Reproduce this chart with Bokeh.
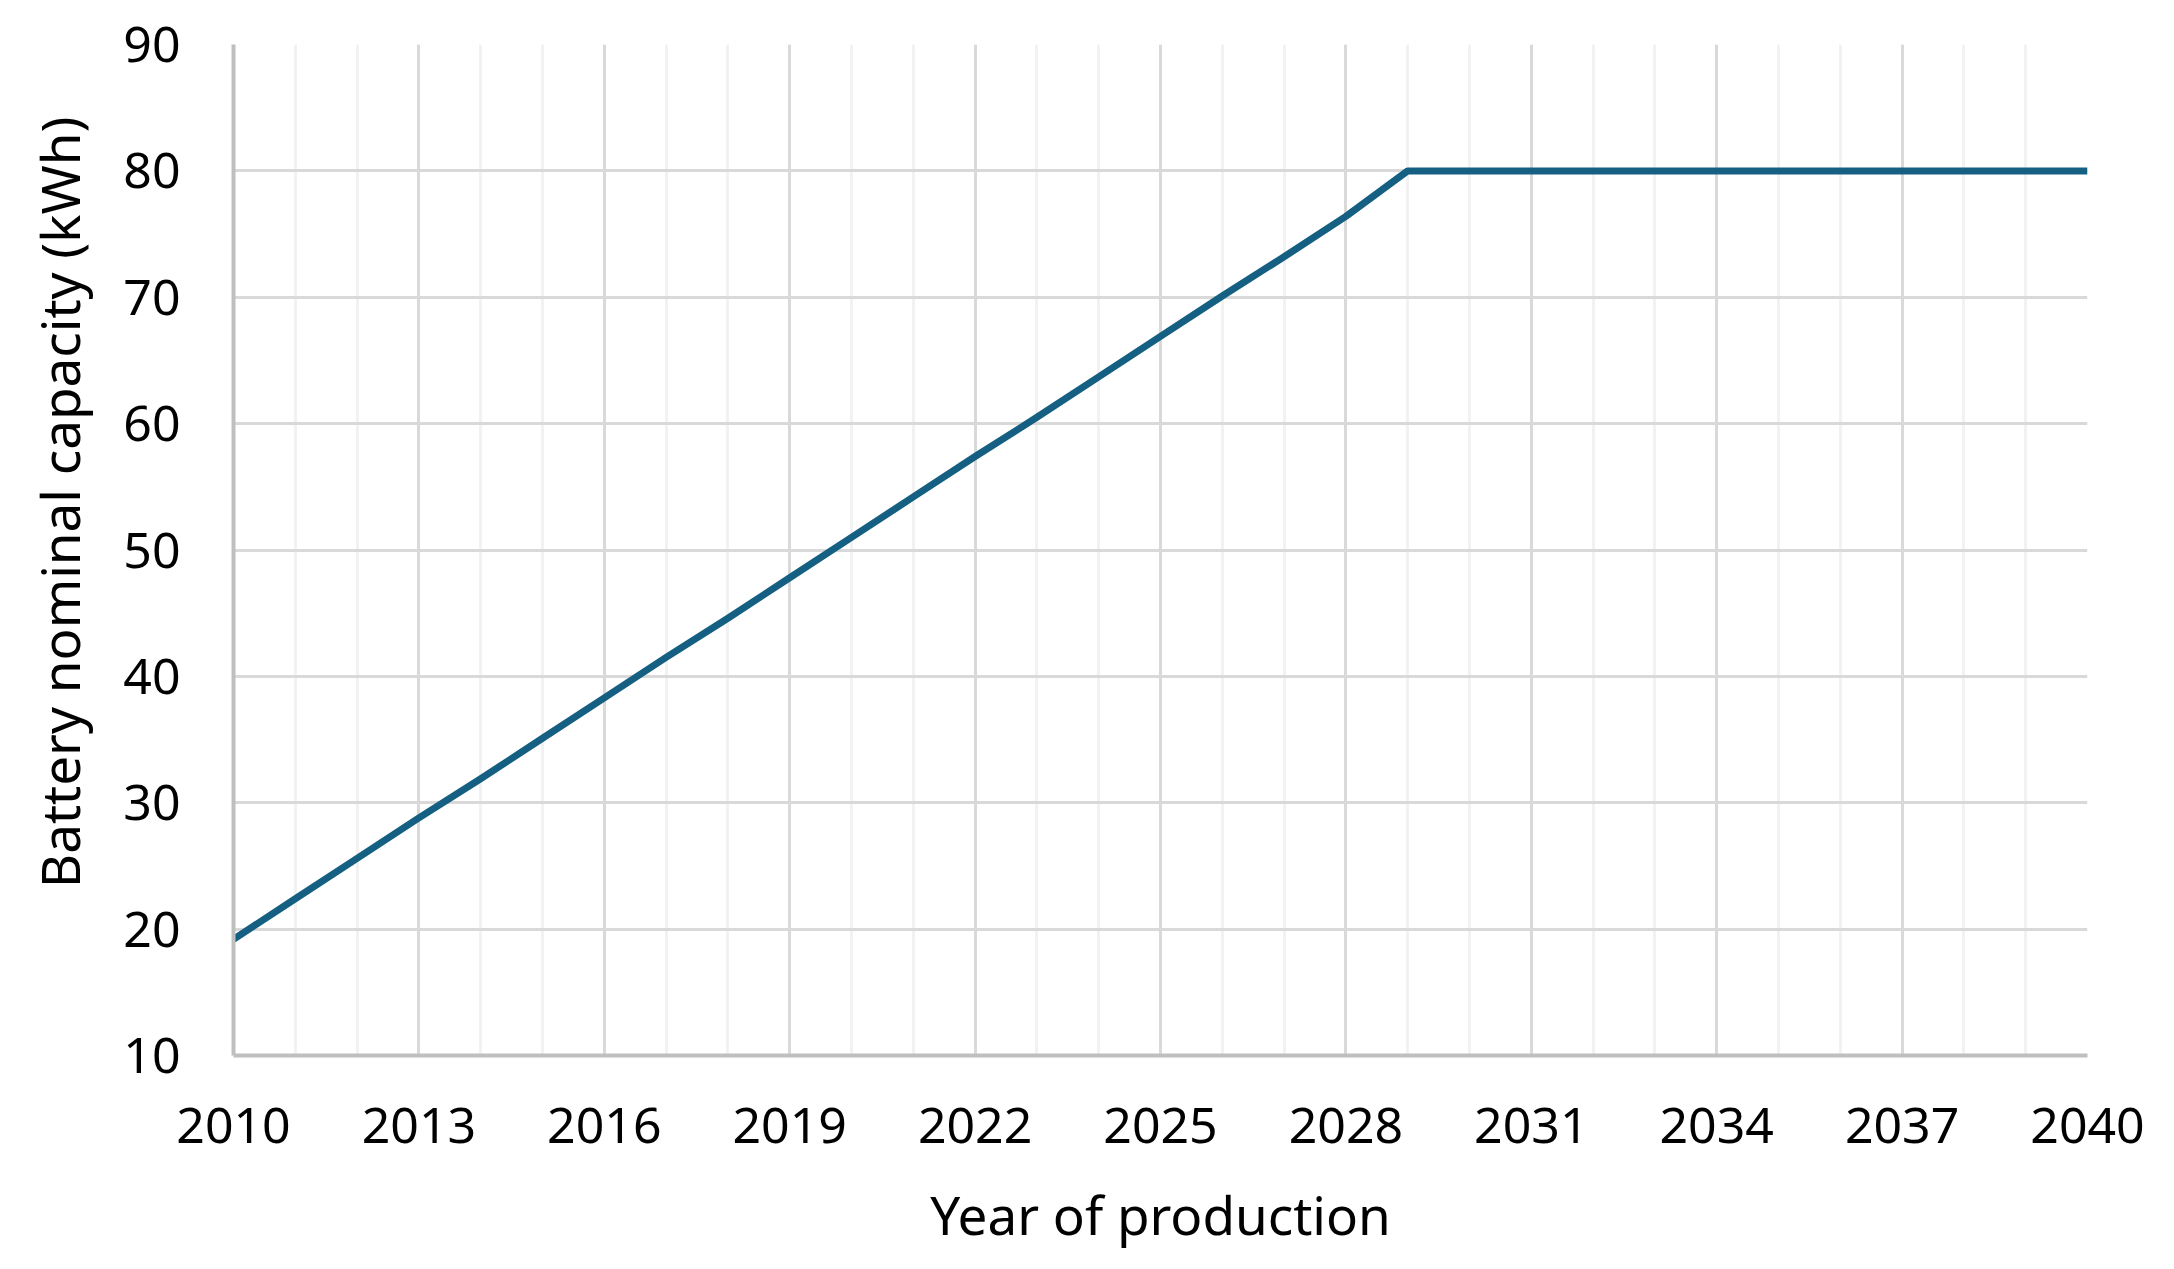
from bokeh.plotting import figure
from bokeh.models import SingleIntervalTicker, Title, Range1d
from bokeh.embed import file_html
from bokeh.resources import INLINE

# Data
years = [2010, 2011, 2012, 2013, 2014, 2015, 2016, 2017, 2018, 2019, 2020,
         2021, 2022, 2023, 2024, 2025, 2026, 2027, 2028, 2029, 2030,
         2031, 2032, 2033, 2034, 2035, 2036, 2037, 2038, 2039, 2040]
capacity = [19.2, 22.4, 25.6, 28.8, 31.9, 35.1, 38.3, 41.5, 44.6, 47.8, 51.0,
            54.2, 57.4, 60.5, 63.7, 66.9, 70.1, 73.2, 76.4, 80.0, 80.0,
            80.0, 80.0, 80.0, 80.0, 80.0, 80.0, 80.0, 80.0, 80.0, 80.0]

x_title = "Year of production"
y_title = "Battery nominal capacity (kWh)"

FONT = "Noto Sans"

p = figure(width=2158, height=1253, output_backend="svg", toolbar_location=None,
           x_range=Range1d(2010, 2040), y_range=Range1d(10, 90),
           min_border_left=233, min_border_top=44, min_border_right=71,
           min_border_bottom=190)
p.outline_line_color = None
p.background_fill_color = "white"
p.border_fill_color = "white"

p.xaxis.ticker = SingleIntervalTicker(interval=3, num_minor_ticks=3)
p.yaxis.ticker = SingleIntervalTicker(interval=10, num_minor_ticks=0)

for ax in (p.xaxis[0], p.yaxis[0]):
    ax.axis_line_color = "#BFBFBF"
    ax.axis_line_width = 4
    ax.major_tick_line_color = None
    ax.minor_tick_line_color = None
    ax.major_tick_out = 0
    ax.minor_tick_out = 0
    ax.major_label_text_font = FONT
    ax.major_label_text_font_size = "50px"
    ax.major_label_text_color = "#000000"

p.xaxis.major_label_standoff = 52
p.yaxis.major_label_standoff = 53

p.xaxis.axis_label = x_title
p.xaxis.axis_label_text_font = FONT
p.xaxis.axis_label_text_font_size = "53px"
p.xaxis.axis_label_text_font_style = "normal"
p.xaxis.axis_label_text_color = "#000000"
p.xaxis.axis_label_standoff = 32

ytitle = Title(text=y_title, align="right", vertical_align="top", offset=72,
               standoff=45, text_font=FONT, text_font_size="53px",
               text_font_style="normal", text_color="#000000")
p.add_layout(ytitle, "left")

p.xgrid.grid_line_color = "#D9D9D9"
p.xgrid.grid_line_width = 3
p.xgrid.minor_grid_line_color = "#F2F2F2"
p.xgrid.minor_grid_line_width = 3
p.ygrid.grid_line_color = "#D9D9D9"
p.ygrid.grid_line_width = 3

p.line(years, capacity, line_color="#156082", line_width=7, line_join="round")

open("out.html", "w").write(file_html(p, INLINE))
